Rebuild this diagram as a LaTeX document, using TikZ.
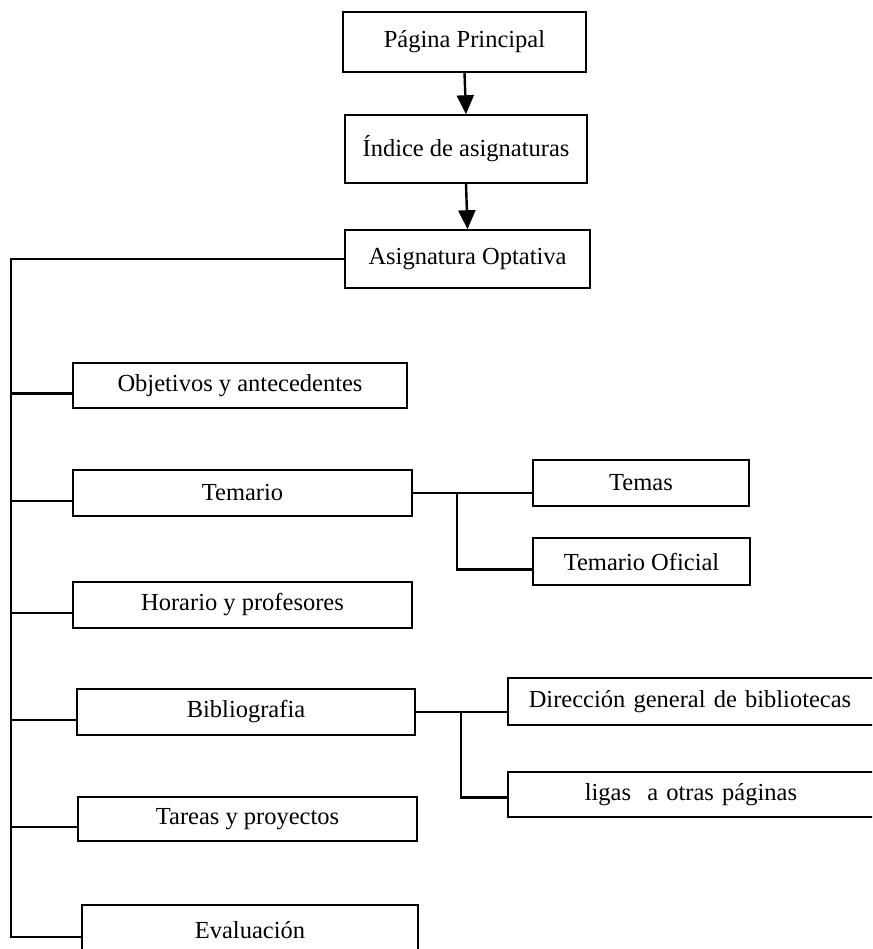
\documentclass[tikz,border=0pt]{standalone}
\usepackage{fontspec}
\setmainfont{Liberation Serif}
\usetikzlibrary{arrows.meta}
\begin{document}
\begin{tikzpicture}[x=1pt,y=-1pt,
  box/.style={draw, line width=1.5pt, rectangle, inner sep=0pt, font=\fontsize{24.5}{28}\selectfont},
  link/.style={line width=2.4pt},
  down/.style={line width=2.4pt, -{Triangle[length=19pt,width=17pt]}}]
\useasboundingbox (0,0) rectangle (872,949);
\clip (0,0) rectangle (872,949);

% main chain
\node[box, minimum width=243pt, minimum height=60pt] (pag) at (464.5,42) {Página Principal};
\node[box, minimum width=242pt, minimum height=68pt] (ind) at (466,149) {Índice de asignaturas};
\node[box, minimum width=245pt, minimum height=58pt] (asig) at (467.5,259) {Asignatura Optativa};
\draw[down] (pag.south) -- (ind.north);
\draw[down] (ind.south) -- (asig.north);

% sections of the subject
\node[box, minimum width=334pt, minimum height=45pt] (obj) at (240,385.5) {Objetivos y antecedentes};
\node[box, minimum width=339pt, minimum height=46pt] (tem) at (242.5,493) {Temario};
\node[box, minimum width=339pt, minimum height=46pt] (hor) at (242.5,605) {Horario y profesores};
\node[box, minimum width=338pt, minimum height=46pt] (bib) at (246,712) {Bibliografia};
\node[box, minimum width=339pt, minimum height=44pt] (tar) at (247.5,819) {Tareas y proyectos};
\node[box, minimum width=336pt, minimum height=50pt] (eva) at (250,930) {Evaluación};

% sub-pages
\node[box, minimum width=216pt, minimum height=46pt] (temas) at (641,483) {Temas};
\node[box, minimum width=217pt, minimum height=47pt] (tof) at (641.5,561.5) {Temario Oficial};
\node[box, anchor=west, minimum width=420pt, minimum height=47pt, text width=420pt, align=left] (dir) at (507,701.5) {\hspace*{21pt}Dirección general de bibliotecas};
\node[box, anchor=west, minimum width=420pt, minimum height=45pt, text width=420pt, align=left] (lig) at (507,794.5) {\hspace*{77pt}ligas~ a otras páginas};

% attachment points, a little below each box's middle
\foreach \n in {obj,tem,hor,bib,tar,tof}
  \coordinate (\n-in) at ([yshift=-8pt]\n.west);
\coordinate (eva-in) at ([yshift=-7pt]eva.west);
\coordinate (lig-in) at ([yshift=-3pt]lig.west);

% left trunk
\coordinate (trunk) at (11,259);
\draw[link] (asig.west) -- (trunk) -- (trunk |- eva-in) -- (eva-in);
\foreach \n in {obj,tem,hor,bib,tar}
  \draw[link] (trunk |- \n-in) -- (\n-in);

% branch to the syllabus pages
\coordinate (tj) at (457,493);
\draw[link] (tem.east) -- (temas.west |- tem.east);
\draw[link] (tj) |- (tof-in);

% branch to the library pages
\coordinate (bj) at (461,712);
\draw[link] (bib.east) -- (dir.west |- bib.east);
\draw[link] (bj) |- (lig-in);
\end{tikzpicture}
\end{document}
